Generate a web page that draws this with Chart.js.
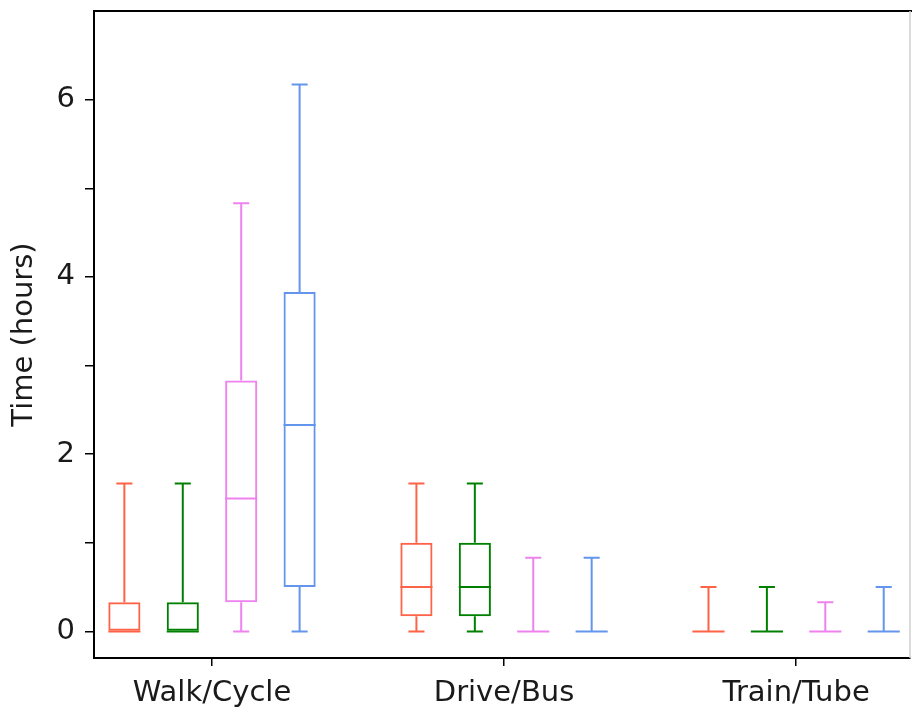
<!DOCTYPE html>
<html>
<head>
<meta charset="utf-8">
<script src="https://cdn.jsdelivr.net/npm/chart.js@4/dist/chart.umd.min.js"></script>
<style>
  html, body { margin: 0; padding: 0; background: #fff; }
  #wrap { width: 912px; height: 708px; }
</style>
</head>
<body>
<div id="wrap"><canvas id="c" width="912" height="708"></canvas></div>
<script>
// Travel modes along the x axis
const groups = ['Walk/Cycle', 'Drive/Bus', 'Train/Tube'];

// Five-number summaries per travel mode: [min, q1, median, q3, max] in hours
const seriesA = [[0, 0, 0, 0.33, 1.67], [0, 0.17, 0.5, 1.0, 1.67], [0, 0, 0, 0, 0.5]];
const seriesB = [[0, 0, 0, 0.33, 1.67], [0, 0.17, 0.5, 1.0, 1.67], [0, 0, 0, 0, 0.5]];
const seriesC = [[0, 0.33, 1.5, 2.83, 4.83], [0, 0, 0, 0, 0.83], [0, 0, 0, 0, 0.33]];
const seriesD = [[0, 0.5, 2.33, 3.83, 6.17], [0, 0, 0, 0, 0.83], [0, 0, 0, 0, 0.5]];

// Y axis ticks (every hour, labelled every two)
const yTicks = [0, 1, 2, 3, 4, 5, 6];

const series = [seriesA, seriesB, seriesC, seriesD];
const colors = ['#ff6347', '#008000', '#ee82ee', '#6495ed'];
const FONT = 'DejaVu Sans';
const TEXT = '#1a1a1a';

const datasets = series.map((s, k) => ({
  label: 'Series ' + (k + 1),
  data: s.map((f, i) => ({ x: i, y: [f[1], f[3]] })),
  summary: s,
  backgroundColor: 'rgba(0,0,0,0)',
  borderColor: colors[k],
  borderWidth: 2,
  borderSkipped: false,
  categoryPercentage: 0.8,
  barPercentage: 0.55
}));

// Whiskers, caps and medians drawn on top of the box elements
const boxExtras = {
  id: 'boxExtras',
  afterDatasetsDraw(chart) {
    const ctx = chart.ctx;
    const y = chart.scales.y;
    chart.data.datasets.forEach((ds, k) => {
      const meta = chart.getDatasetMeta(k);
      meta.data.forEach((el, i) => {
        const [mn, q1, med, q3, mx] = ds.summary[i];
        const cx = el.x;
        const w = el.width;
        const cap = w / 2;
        ctx.save();
        ctx.strokeStyle = ds.borderColor;
        ctx.lineWidth = 2;
        ctx.lineCap = 'butt';
        ctx.beginPath();
        // upper whisker + cap
        if (mx > q3) {
          ctx.moveTo(cx, y.getPixelForValue(q3));
          ctx.lineTo(cx, y.getPixelForValue(mx));
        }
        ctx.moveTo(cx - cap / 2, y.getPixelForValue(mx));
        ctx.lineTo(cx + cap / 2, y.getPixelForValue(mx));
        // lower whisker + cap
        if (q1 > mn) {
          ctx.moveTo(cx, y.getPixelForValue(q1));
          ctx.lineTo(cx, y.getPixelForValue(mn));
        }
        ctx.moveTo(cx - cap / 2, y.getPixelForValue(mn));
        ctx.lineTo(cx + cap / 2, y.getPixelForValue(mn));
        // median line across the box
        ctx.moveTo(cx - w / 2, y.getPixelForValue(med));
        ctx.lineTo(cx + w / 2, y.getPixelForValue(med));
        ctx.stroke();
        ctx.restore();
      });
    });
  }
};

// Top and right frame lines
const frame = {
  id: 'frame',
  afterDraw(chart) {
    const { ctx, chartArea: a } = chart;
    ctx.save();
    ctx.lineWidth = 2;
    ctx.strokeStyle = '#000';
    ctx.beginPath();
    ctx.moveTo(a.left - 1, a.top);
    ctx.lineTo(chart.width, a.top);
    ctx.stroke();
    ctx.strokeStyle = '#cfcfcf';
    ctx.lineWidth = 1.5;
    ctx.beginPath();
    ctx.moveTo(a.right, a.top);
    ctx.lineTo(a.right, a.bottom);
    ctx.stroke();
    ctx.restore();
  }
};

new Chart(document.getElementById('c'), {
  type: 'bar',
  data: { datasets },
  options: {
    responsive: false,
    animation: false,
    layout: { padding: { top: 11, right: 2, left: 0, bottom: 0 } },
    plugins: { legend: { display: false }, tooltip: { enabled: false } },
    scales: {
      x: {
        type: 'linear',
        offset: false,
        min: -0.404,
        max: 2.39,
        afterBuildTicks: s => { s.ticks = groups.map((g, i) => ({ value: i })); },
        afterFit: s => { s.height = 50; s.paddingLeft = 0; s.paddingRight = 0; },
        ticks: {
          callback: v => groups[v] ?? '',
          color: TEXT,
          font: { family: FONT, size: 29 },
          padding: 10,
          maxRotation: 0,
          autoSkip: false
        },
        grid: { offset: false, drawOnChartArea: false, drawTicks: true, tickLength: 8, color: '#000', lineWidth: 1.5 },
        border: { color: '#000', width: 2 }
      },
      y: {
        min: -0.3,
        max: 7,
        afterBuildTicks: s => { s.ticks = yTicks.map(v => ({ value: v })); },
        afterFit: s => { s.width = 94; s.paddingTop = 0; s.paddingBottom = 0; },
        ticks: {
          callback: v => (v % 2 === 0 ? String(v) : ''),
          color: TEXT,
          font: { family: FONT, size: 29 },
          padding: 10
        },
        grid: { drawOnChartArea: false, drawTicks: true, tickLength: 9, color: '#000', lineWidth: 1.5 },
        border: { color: '#000', width: 2 },
        title: {
          display: true,
          text: 'Time (hours)',
          color: TEXT,
          font: { family: FONT, size: 29 },
          padding: { top: 7, bottom: 0 }
        }
      }
    }
  },
  plugins: [boxExtras, frame]
});
</script>
</body>
</html>
